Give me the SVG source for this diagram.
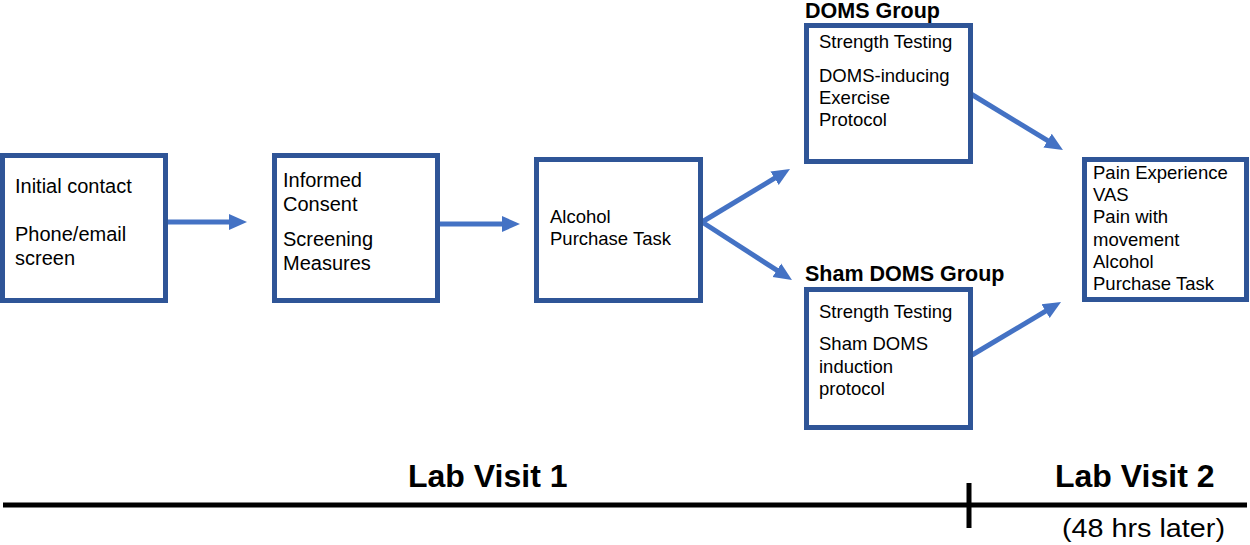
<svg xmlns="http://www.w3.org/2000/svg" width="1250" height="545" viewBox="0 0 1250 545">
<style>
.box{fill:#fff;stroke:#2F5597;stroke-width:5}
.t{font-family:"Liberation Sans",Arial,sans-serif;font-size:18.5px;fill:#000}
.tb{font-family:"Liberation Sans",Arial,sans-serif;font-size:20px;fill:#000}
.h{font-family:"Liberation Sans",Arial,sans-serif;font-size:21.5px;font-weight:bold;fill:#000}
.lv{font-family:"Liberation Sans",Arial,sans-serif;font-size:32px;font-weight:bold;fill:#000}
.sub{font-family:"Liberation Sans",Arial,sans-serif;font-size:26px;fill:#000}
.c{stroke:#4472C4;stroke-width:5;fill:none;marker-end:url(#ah)}
.tl{stroke:#000;stroke-width:5}
</style>
<defs>
<marker id="ah" markerUnits="userSpaceOnUse" markerWidth="18" markerHeight="18" viewBox="0 0 18 18" refX="4" refY="9" orient="auto">
<path d="M0,1 L18,9 L0,17 z" fill="#4472C4"/>
</marker>
</defs>
<g id="connectors">
<line class="c" x1="168" y1="222" x2="233" y2="222"/>
<line class="c" x1="440" y1="224" x2="506" y2="224"/>
<line class="c" x1="702" y1="222" x2="778" y2="176.2"/>
<line class="c" x1="702" y1="222" x2="780.2" y2="272.4"/>
<line class="c" x1="971" y1="94" x2="1051" y2="142.7"/>
<line class="c" x1="972" y1="355" x2="1049" y2="309.2"/>
</g>
<g id="initial">
<rect class="box" x="2.5" y="155.5" width="163" height="145"/>
<text class="tb" x="15" y="193">Initial contact</text>
<text class="tb" x="15" y="241">Phone/email</text>
<text class="tb" x="15" y="265">screen</text>
</g>
<g id="consent">
<rect class="box" x="274.5" y="155.5" width="163" height="145"/>
<text class="tb" x="283" y="187">Informed</text>
<text class="tb" x="283" y="211">Consent</text>
<text class="tb" x="283" y="246">Screening</text>
<text class="tb" x="283" y="270">Measures</text>
</g>
<g id="apt">
<rect class="box" x="536.5" y="159.5" width="164" height="141"/>
<text class="t" x="550" y="223">Alcohol</text>
<text class="t" x="550" y="245">Purchase Task</text>
</g>
<g id="doms">
<text class="h" x="805" y="18">DOMS Group</text>
<rect class="box" x="806.5" y="25.5" width="164" height="136"/>
<text class="t" x="819" y="48">Strength Testing</text>
<text class="t" x="819" y="82">DOMS-inducing</text>
<text class="t" x="819" y="104">Exercise</text>
<text class="t" x="819" y="126">Protocol</text>
</g>
<g id="sham">
<text class="h" x="805" y="281">Sham DOMS Group</text>
<rect class="box" x="806.5" y="289.5" width="164" height="138"/>
<text class="t" x="819" y="318">Strength Testing</text>
<text class="t" x="819" y="350">Sham DOMS</text>
<text class="t" x="819" y="373">induction</text>
<text class="t" x="819" y="395">protocol</text>
</g>
<g id="visit2">
<rect class="box" x="1084.5" y="159.5" width="162" height="140"/>
<text class="t" x="1093" y="179">Pain Experience</text>
<text class="t" x="1093" y="201">VAS</text>
<text class="t" x="1093" y="223">Pain with</text>
<text class="t" x="1093" y="246">movement</text>
<text class="t" x="1093" y="268">Alcohol</text>
<text class="t" x="1093" y="290">Purchase Task</text>
</g>
<g id="timeline">
<line class="tl" x1="3" y1="505" x2="1247" y2="505"/>
<line class="tl" x1="969" y1="483" x2="969" y2="528"/>
<text class="lv" x="408" y="487">Lab Visit 1</text>
<text class="lv" x="1055" y="487">Lab Visit 2</text>
<text class="sub" x="1062" y="537" textLength="163" lengthAdjust="spacingAndGlyphs">(48 hrs later)</text>
</g>
</svg>
